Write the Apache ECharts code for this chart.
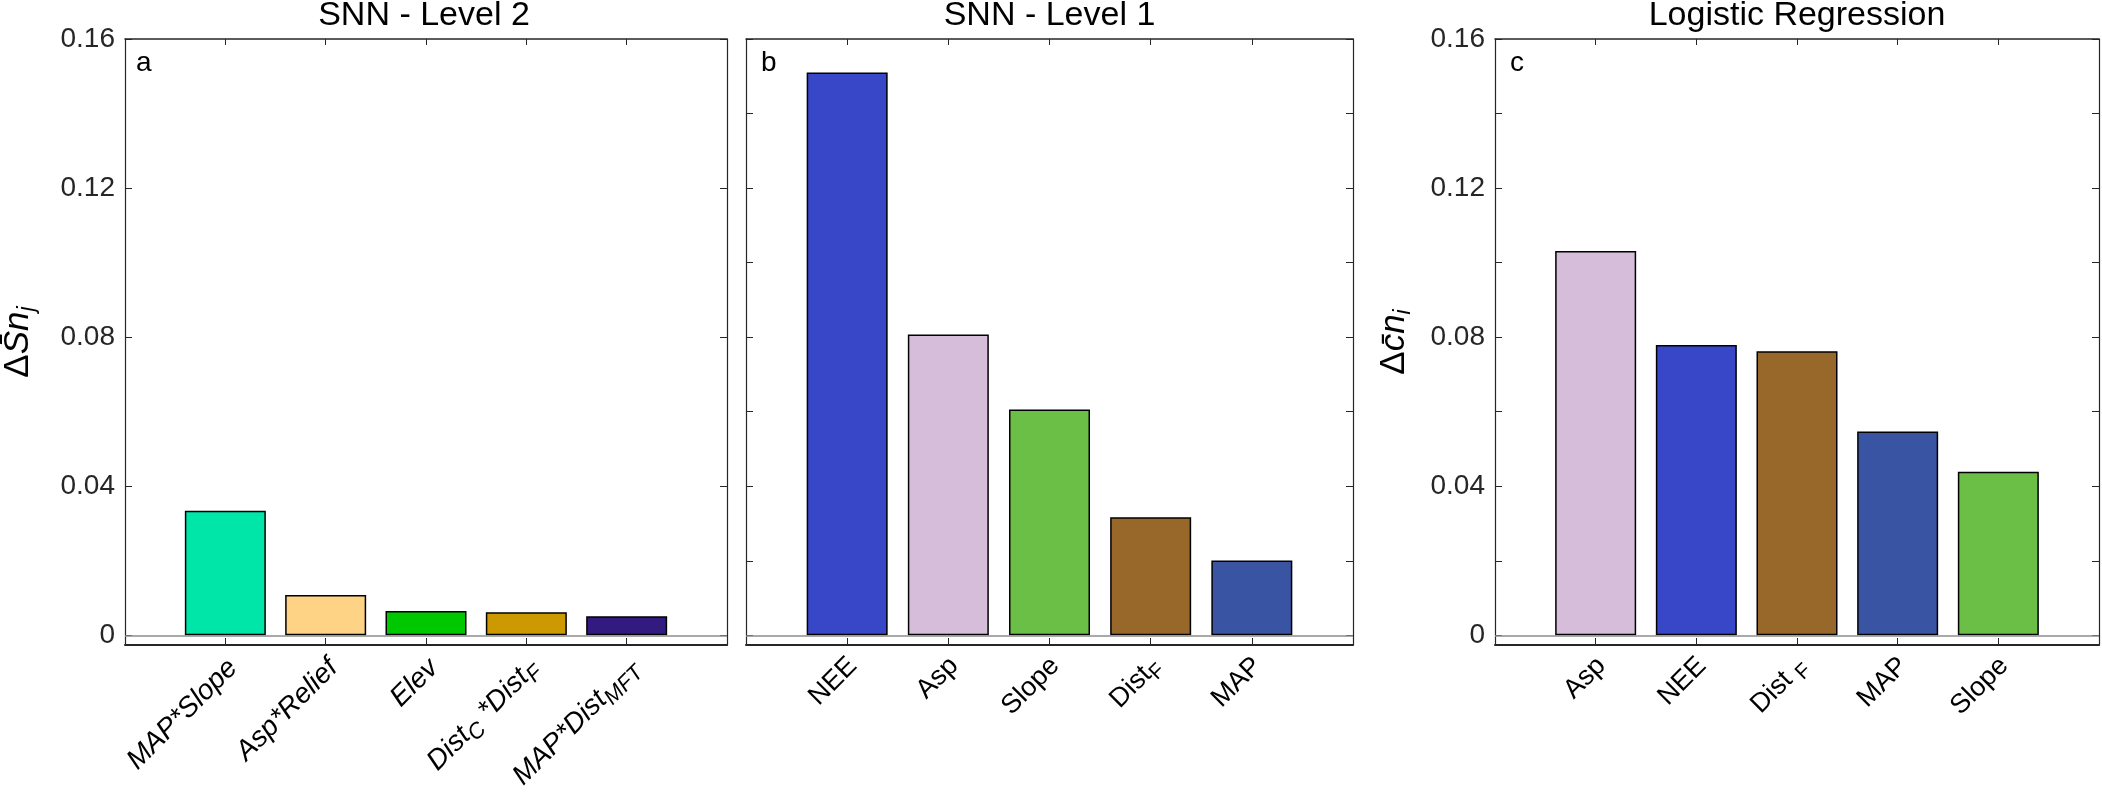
<!DOCTYPE html>
<html>
<head>
<meta charset="utf-8">
<script src="https://cdn.jsdelivr.net/npm/echarts@6/dist/echarts.min.js"></script>
<style>
html, body { margin: 0; padding: 0; background: #fff; }
#chart { width: 2102px; height: 800px; }
</style>
</head>
<body>
<div id="chart"></div>
<script>
// panel a - SNN level 2
var namesA = ['MAP*Slope', 'Asp*Relief', 'Elev', 'Dist_{C} *Dist_{F}', 'MAP*Dist_{MFT}'];
var valuesA = [0.0334, 0.0108, 0.0065, 0.0062, 0.0051];
var colorsA = ['#00e5a8', '#fed385', '#00c800', '#cc9a00', '#331a80'];

// panel b - SNN level 1
var namesB = ['NEE', 'Asp', 'Slope', 'Dist_{F}', 'MAP'];
var valuesB = [0.1510, 0.0807, 0.0606, 0.0317, 0.0201];
var colorsB = ['#3846c8', '#d6bdda', '#6bbe46', '#98672a', '#3a54a4'];

// panel c - logistic regression
var namesC = ['Asp', 'NEE', 'Dist _{F}', 'MAP', 'Slope'];
var valuesC = [0.1031, 0.0779, 0.0762, 0.0547, 0.0439];
var colorsC = ['#d6bdda', '#3846c8', '#98672a', '#3a54a4', '#6bbe46'];

var titles = ['SNN - Level 2', 'SNN - Level 1', 'Logistic Regression'];
var panelLetters = ['a', 'b', 'c'];
var yTickLabels = [0, 0.04, 0.08, 0.12, 0.16];
var yMinorTicks = [0, 0.02, 0.04, 0.06, 0.08, 0.10, 0.12, 0.14, 0.16];
var yMin = -0.0026, yMax = 0.16;

var axisColor = '#262626';
var fontMain = 'Liberation Sans, Arial, sans-serif';

// grids in px (left, width)
var grids = [
    {left: 121, width: 606},
    {left: 746, width: 607},
    {left: 1495, width: 604}
];
var gridTop = 39, gridHeight = 606;

// turns 'Dist_{F}' into rich text tokens
function toRich(s) {
    return '{n|' + s.replace(/_\{([^}]*)\}/g, '}{s|$1}{n|') + '}';
}

var myChart = echarts.init(document.getElementById('chart'));

var option = {
    animation: false,
    backgroundColor: '#fff',
    title: [],
    grid: [],
    xAxis: [],
    yAxis: [],
    series: [],
    graphic: []
};

var panels = [
    {names: namesA, values: valuesA, colors: colorsA, italic: true, labelSize: 28, labelPad: 22,
        ticks: yTickLabels, labels: true, yName: '{d|Δ}{v|S\u0304n}{s|j}', nameGap: 86},
    {names: namesB, values: valuesB, colors: colorsB, italic: false, labelSize: 27, labelPad: 16,
        ticks: yMinorTicks, labels: false},
    {names: namesC, values: valuesC, colors: colorsC, italic: false, labelSize: 27, labelPad: 16,
        ticks: yMinorTicks, labels: true, yName: '{d|Δ}{v|c\u0304n}{s|i}', nameGap: 80}
];

panels.forEach(function (p, i) {
    var g = grids[i];
    var fs = p.italic ? 'italic' : 'normal';
    var catPos = p.names.map(function (n, k) { return k + 1; });

    option.grid.push({left: g.left, width: g.width, top: gridTop, height: gridHeight, containLabel: false});

    option.title.push({
        text: titles[i],
        left: g.left + g.width / 2,
        textAlign: 'center',
        top: -1,
        padding: 0,
        textStyle: {fontFamily: fontMain, fontSize: 34, fontWeight: 'normal', color: '#000'}
    });

    // bottom axis (categories)
    option.xAxis.push({
        type: 'value', gridIndex: i, min: 0, max: 6, position: 'bottom',
        splitLine: {show: false},
        axisLine: {show: true, onZero: false, lineStyle: {color: axisColor, width: 2}},
        axisTick: {show: true, inside: true, length: 7, customValues: catPos, lineStyle: {color: axisColor, width: 1}},
        axisLabel: {
            show: true, rotate: 45, margin: 11, customValues: catPos,
            padding: [p.labelPad, 0, 0, 0],
            formatter: (function (names) {
                return function (v) { return toRich(names[Math.round(v) - 1] || ''); };
            })(p.names),
            rich: {
                n: {fontFamily: fontMain, fontSize: p.labelSize, fontStyle: fs, color: '#000'},
                s: {fontFamily: fontMain, fontSize: p.labelSize - 6, fontStyle: fs, color: '#000', padding: [16, 0, 0, 0]}
            }
        }
    });
    // top axis (box + ticks)
    option.xAxis.push({
        type: 'value', gridIndex: i, min: 0, max: 6, position: 'top',
        splitLine: {show: false},
        axisLine: {show: true, onZero: false, lineStyle: {color: axisColor, width: 1.5}},
        axisTick: {show: true, inside: true, length: 6, customValues: catPos, lineStyle: {color: axisColor, width: 1}},
        axisLabel: {show: false}
    });

    // left axis
    var yLeft = {
        type: 'value', gridIndex: i, min: yMin, max: yMax, position: 'left',
        splitLine: {show: false},
        axisLine: {show: true, onZero: false, lineStyle: {color: axisColor, width: 1.2}},
        axisTick: {show: true, inside: true, length: 7, customValues: p.ticks, lineStyle: {color: axisColor, width: 1}},
        axisLabel: {
            show: p.labels, margin: 10, customValues: yTickLabels,
            fontFamily: fontMain, fontSize: 28, color: '#262626',
            formatter: function (v) { return v === 0 ? '0' : v.toFixed(2); }
        }
    };
    if (p.yName) {
        yLeft.name = p.yName;
        yLeft.nameLocation = 'middle';
        yLeft.nameRotate = 90;
        yLeft.nameGap = p.nameGap;
        yLeft.nameTextStyle = {
            rich: {
                d: {fontFamily: fontMain, fontSize: 35, color: '#000'},
                v: {fontFamily: fontMain, fontSize: 35, fontStyle: 'italic', color: '#000'},
                s: {fontFamily: fontMain, fontSize: 23, fontStyle: 'italic', color: '#000', padding: [18, 0, 0, 0]}
            }
        };
    }
    option.yAxis.push(yLeft);
    // right axis (box + ticks)
    option.yAxis.push({
        type: 'value', gridIndex: i, min: yMin, max: yMax, position: 'right',
        splitLine: {show: false},
        axisLine: {show: true, onZero: false, lineStyle: {color: axisColor, width: 1.2}},
        axisTick: {show: true, inside: true, length: 7, customValues: p.ticks, lineStyle: {color: axisColor, width: 1}},
        axisLabel: {show: false}
    });

    option.series.push({
        type: 'bar',
        xAxisIndex: i * 2,
        yAxisIndex: i * 2,
        barWidth: 81,
        data: p.values.map(function (v, k) {
            return {value: [k + 1, v], itemStyle: {color: p.colors[k]}};
        }),
        itemStyle: {borderColor: '#000', borderWidth: 1.5},
        markLine: {
            silent: true, symbol: 'none', label: {show: false},
            lineStyle: {color: '#8c8c8c', width: 1.5, type: 'solid'},
            data: [{yAxis: 0}]
        },
        z: 2
    });

    option.graphic.push({
        type: 'text',
        left: g.left + 15,
        top: gridTop + 10,
        style: {text: panelLetters[i], fontFamily: fontMain, fontSize: 28, fill: '#000'}
    });
});

myChart.setOption(option);
</script>
</body>
</html>
